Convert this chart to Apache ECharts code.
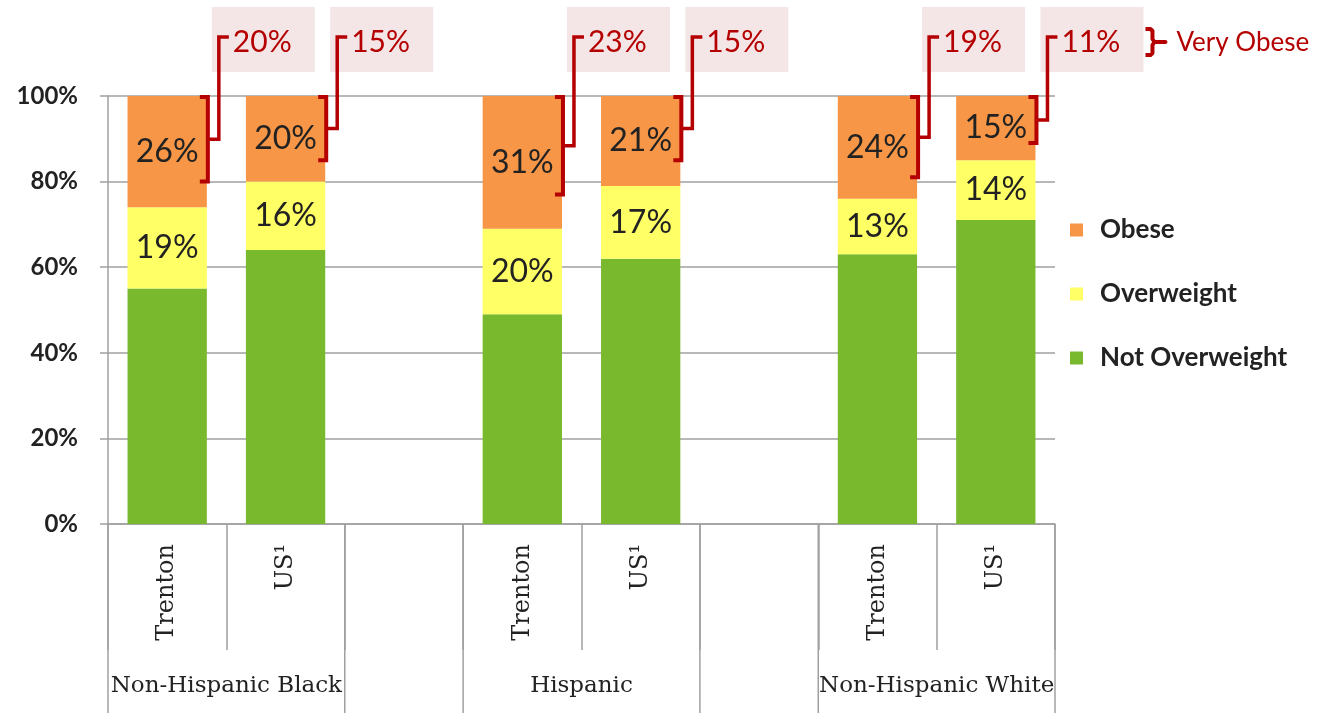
<!DOCTYPE html>
<html>
<head>
<meta charset="utf-8">
<script src="https://cdn.jsdelivr.net/npm/echarts@6/dist/echarts.min.js"></script>
<style>
html,body{margin:0;padding:0;background:#fff;}
#c{width:1317px;height:713px;}
</style>
</head>
<body>
<div id="c"></div>
<script>
// ---- data ----
const categories = ['Trenton', 'US\u00B9', '', 'Trenton', 'US\u00B9', '', 'Trenton', 'US\u00B9'];
const groups = ['Non-Hispanic Black', 'Hispanic', 'Non-Hispanic White'];
const notOverweight = [55, 64, null, 49, 62, null, 63, 71];
const overweight    = [19, 16, null, 20, 17, null, 13, 14];
const obese         = [26, 20, null, 31, 21, null, 24, 15];
const veryObese     = [20, 15, null, 23, 15, null, 19, 11];
const yMin = 0, yMax = 100, yStep = 20;

const RED = '#b40000';
const GAP = 0.33;

const chart = echarts.init(document.getElementById('c'));

const pctLabel = {
  show: true, position: 'inside',
  formatter: p => (p.value == null ? '' : p.value + '%'),
  fontFamily: 'Lato', fontSize: 32, color: '#222'
};

chart.setOption({
  animation: false,
  backgroundColor: '#fff',
  grid: { left: 108, right: 262, top: 96, bottom: 189, containLabel: false },
  legend: {
    orient: 'vertical', left: 1065, top: 212,
    data: ['Obese', 'Overweight', 'Not Overweight'],
    icon: 'rect', itemWidth: 13, itemHeight: 13, itemGap: 38,
    textStyle: { fontFamily: 'Lato', fontWeight: 'bold', fontSize: 26, color: '#222', padding: [0, 0, 0, 12] }
  },
  xAxis: {
    type: 'category', data: categories,
    axisLine: { lineStyle: { color: '#a0a0a0', width: 1.5 } },
    axisTick: { show: true, interval: 0, length: 126, lineStyle: { color: '#a0a0a0', width: 1.5 } },
    axisLabel: {
      interval: 0, rotate: 90, margin: 20,
      fontFamily: 'DejaVu Serif', fontSize: 24, color: '#222'
    }
  },
  yAxis: {
    type: 'value', min: yMin, max: yMax, interval: yStep,
    axisLine: { show: true, lineStyle: { color: '#a0a0a0', width: 1.5 } },
    axisTick: { show: true, inside: false, length: 8, lineStyle: { color: '#a0a0a0', width: 1.5 } },
    splitLine: { lineStyle: { color: '#a0a0a0', width: 1.5 } },
    axisLabel: {
      formatter: '{value}%', margin: 30,
      fontFamily: 'Lato', fontWeight: 'bold', fontSize: 24, color: '#222'
    }
  },
  series: [
    { name: 'Not Overweight', type: 'bar', stack: 's', data: notOverweight,
      barCategoryGap: (GAP * 100) + '%', itemStyle: { color: '#79b92e' } },
    { name: 'Overweight', type: 'bar', stack: 's', data: overweight,
      itemStyle: { color: '#ffff66' }, label: pctLabel },
    { name: 'Obese', type: 'bar', stack: 's', data: obese,
      itemStyle: { color: '#f79646' }, label: pctLabel }
  ]
});

// ---- annotations positioned through the chart's scales ----
const px = (i, v) => chart.convertToPixel({ seriesIndex: 0 }, [i, v]);
const bw = px(1, 0)[0] - px(0, 0)[0];
const halfBar = bw * (1 - GAP) / 2;
const yBase = px(0, yMin)[1];
const bottomY = 713;
const g = [];

// long group separators
const firstEdge = px(0, 0)[0] - bw / 2;
[0, 2, 3, 5, 6, 8].forEach(k => {
  const x = firstEdge + k * bw;
  g.push({ type: 'line', shape: { x1: x, y1: yBase, x2: x, y2: bottomY },
    style: { stroke: '#a0a0a0', lineWidth: 1.5 }, silent: true });
});

// group labels
groups.forEach((name, gi) => {
  const cx = (px(gi * 3, 0)[0] + px(gi * 3 + 1, 0)[0]) / 2;
  g.push({ type: 'text', x: cx, y: 686,
    style: { text: name, font: '23px "DejaVu Serif"', fill: '#222', align: 'center', verticalAlign: 'middle' } });
});

// very obese brackets + labels
let lastXr = 0;
veryObese.forEach((vo, i) => {
  if (vo == null) return;
  const c = px(i, yMax);
  const xr = c[0] + halfBar;
  lastXr = xr;
  const yTop = c[1] + 1;
  const yBot = px(i, yMax - vo)[1];
  const yMid = (yTop + yBot) / 2;
  g.push({ type: 'rect', shape: { x: xr + 5, y: 7, width: 103, height: 65 },
    style: { fill: '#f4e6e7' }, z: 1 });
  g.push({ type: 'polyline', shape: { points: [[xr - 7, yTop], [xr + 1, yTop], [xr + 1, yBot], [xr - 7, yBot]] },
    style: { stroke: RED, lineWidth: 4, fill: null, lineJoin: 'miter' }, z: 10 });
  g.push({ type: 'polyline', shape: { points: [[xr + 1, yMid], [xr + 12, yMid], [xr + 12, 37], [xr + 22, 37]] },
    style: { stroke: RED, lineWidth: 3.5, fill: null, lineJoin: 'miter' }, z: 10 });
  g.push({ type: 'text', x: xr + 26, y: 42,
    style: { text: vo + '%', font: '30px Lato', fill: RED, verticalAlign: 'middle' }, z: 11 });
});

// "Very Obese" key with brace
const bx = lastXr + 110;
g.push({ type: 'polyline', shape: {
    points: [[bx, 29], [bx + 5, 29], [bx + 7, 31], [bx + 7, 39], [bx + 9, 42], [bx + 20, 42],
             [bx + 9, 42], [bx + 7, 45], [bx + 7, 53], [bx + 5, 55], [bx, 55]]
  },
  style: { stroke: RED, lineWidth: 4, fill: null, lineJoin: 'round' }, z: 10 });
g.push({ type: 'text', x: bx + 31, y: 43,
  style: { text: 'Very Obese', font: '26px Lato', fill: RED, verticalAlign: 'middle' }, z: 11 });

chart.setOption({ graphic: g });
</script>
</body>
</html>
